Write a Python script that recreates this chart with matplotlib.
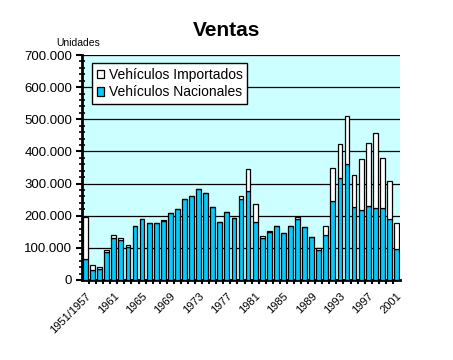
import numpy as np
import matplotlib
matplotlib.use("Agg")
import matplotlib.pyplot as plt
from matplotlib.ticker import FuncFormatter, MultipleLocator, FixedLocator

# categories: first bar groups 1951-1957, then one bar per year
categories = ["1951/1957"] + [str(y) for y in range(1958, 2002)]

# units sold
nacionales = [65000, 32000, 33000, 87000, 132000, 124000, 104000, 168000, 189000, 177000,
              177000, 183000, 210000, 221000, 252000, 262000, 284000, 272000, 228000, 179000,
              212000, 192000, 251000, 277000, 180000, 130000, 148000, 167000, 147000, 167000,
              190000, 164000, 135000, 93000, 140000, 246000, 316000, 362000, 228000, 219000,
              230000, 225000, 225000, 191000, 95000]
importados = [132000, 15000, 7000, 7000, 7000, 7000, 4000, 0, 0, 0,
              0, 3000, 0, 0, 0, 0, 0, 0, 0, 0,
              0, 0, 11000, 67000, 57000, 8000, 4000, 0, 0, 0,
              5000, 0, 0, 6000, 27000, 104000, 106000, 147000, 100000, 156000,
              196000, 232000, 156000, 116000, 83000]

plt.rcParams['font.family'] = ['Liberation Sans', 'DejaVu Sans']

fig = plt.figure(figsize=(4.53, 3.6), dpi=100)
ax = fig.add_axes([82 / 453, 1 - 280 / 360, 318 / 453, 225 / 360])
ax.set_facecolor('#CCFFFF')

x = np.arange(len(categories))
ax.bar(x, nacionales, width=0.68, color='#00CCFF', edgecolor='black', linewidth=0.9,
       label='Vehículos Nacionales', zorder=3)
ax.bar(x, importados, width=0.68, bottom=nacionales, color='white', edgecolor='black',
       linewidth=0.9, label='Vehículos Importados', zorder=3)

ax.set_xlim(-0.5, len(categories) - 0.5)
ax.set_ylim(0, 700000)

# y axis
ax.yaxis.set_major_locator(MultipleLocator(100000))
ax.yaxis.set_minor_locator(MultipleLocator(20000))
ax.yaxis.set_major_formatter(FuncFormatter(lambda v, p: f"{v:,.0f}".replace(",", ".")))
ax.tick_params(axis='y', which='major', direction='out', length=4, width=1.5, labelsize=9.5, pad=3)
ax.tick_params(axis='y', which='minor', direction='inout', length=4, width=1.2)
ax.grid(axis='y', which='major', color='black', linewidth=0.9, zorder=1)

# x axis: ticks between categories, labels every 4 bars
ax.xaxis.set_major_locator(FixedLocator(x[::4]))
ax.set_xticklabels(categories[::4])
ax.xaxis.set_minor_locator(FixedLocator(x[:-1] + 0.5))
ax.tick_params(axis='x', which='major', length=0, labelsize=8, pad=8)
ax.tick_params(axis='x', which='minor', direction='out', length=3, width=1.5)
for lbl in ax.get_xticklabels():
    lbl.set_rotation(45)
    lbl.set_ha('right')
    lbl.set_rotation_mode('anchor')

for s in ['top', 'right']:
    ax.spines[s].set_visible(False)
ax.spines['left'].set_linewidth(2)
ax.spines['bottom'].set_linewidth(2)

handles, labels = ax.get_legend_handles_labels()
leg = ax.legend(handles[::-1], labels[::-1], loc='upper left', bbox_to_anchor=(0.031, 0.964),
                borderaxespad=0, frameon=True, fancybox=False, fontsize=10,
                handlelength=0.55, handleheight=0.55, handletextpad=0.3,
                labelspacing=0.25, borderpad=0.35)
leg.get_frame().set_edgecolor('black')
leg.get_frame().set_linewidth(1)
leg.get_frame().set_facecolor('white')
leg.get_frame().set_alpha(1)
leg.set_zorder(5)

fig.text(0.5, 1 - 31 / 360, 'Ventas', ha='center', va='center', fontsize=15, fontweight='bold')
fig.text(78 / 453, 1 - 43 / 360, 'Unidades', ha='center', va='center', fontsize=7.5)

fig.savefig('out.png', dpi=100, facecolor='white')
